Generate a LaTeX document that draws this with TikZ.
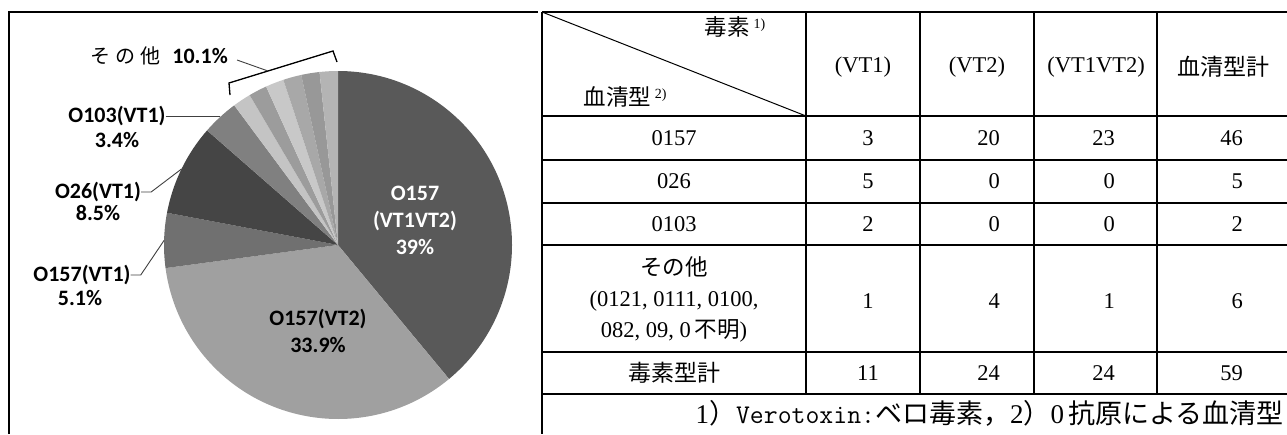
\documentclass[tikz,border=0pt]{standalone}
\usepackage{fontspec}
\usepackage{xcolor}
\usetikzlibrary{calc}
\setmainfont{Liberation Serif}
\newfontfamily\jp{Noto Sans CJK JP}
\newfontfamily\lab{Carlito}
\definecolor{pieA}{HTML}{595959}
\definecolor{pieB}{HTML}{A0A0A0}
\definecolor{pieC}{HTML}{707070}
\definecolor{pieD}{HTML}{454545}
\definecolor{pieE}{HTML}{808080}
\definecolor{pieF}{HTML}{C4C4C4}
\definecolor{pieG}{HTML}{9C9C9C}
\definecolor{pieH}{HTML}{C8C8C8}
\definecolor{pieI}{HTML}{A8A8A8}
\definecolor{pieJ}{HTML}{989898}
\definecolor{pieK}{HTML}{B4B4B4}

\begin{document}
\begin{tikzpicture}[x=1pt, y=-1pt,
    lbl/.style={font=\lab\bfseries\fontsize{22}{27}\selectfont, inner sep=0pt},
    cell/.style={font=\fontsize{22.5}{31}\selectfont, inner sep=0pt, align=center},
    jpcell/.style={cell, font=\jp\fontsize{23}{28}\selectfont},
    lead/.style={draw=black!75, line width=0.9pt},
    tabline/.style={line width=2pt}]
    \useasboundingbox (0,0) rectangle (1287,434);

    % pie, in units of 1/59 (6.1017 deg)
    \coordinate (c) at (338,245);
    \foreach \a/\b/\col in {0/23/pieA, 23/43/pieB, 43/46/pieC, 46/51/pieD, 51/53/pieE,
        53/54/pieF, 54/55/pieG, 55/56/pieH, 56/57/pieI, 57/58/pieJ, 58/59/pieK}
      \fill[\col] (c) -- ++({-90+\a*6.10169}:174) arc[start angle={-90+\a*6.10169}, end angle={-90+\b*6.10169}, radius=174] -- cycle;

    \coordinate (pone) at ($(c)+(181.5:174)$);
    \coordinate (ptwosix) at ($(c)+(205.9:174)$);
    \coordinate (ponethree) at ($(c)+(227.3:174)$);

    \node[lbl, text=white, align=center] (both) at (415,220) {O157\\(VT1VT2)\\39\%};
    \node[lbl, align=center] (vttwo) at (318,331) {O157(VT2)\\33.9\%};
    \node[lbl] (vtone) at (82,275) {O157(VT1)};
    \node[lbl] (vtonep) at (80,298) {5.1\%};
    \node[lbl] (otwosix) at (98,192) {O26(VT1)};
    \node[lbl] (otwosixp) at (98,213) {8.5\%};
    \node[lbl] (oonethree) at (117,116) {O103(VT1)};
    \node[lbl] (oonethreep) at (117,140) {3.4\%};
    \node[lbl, anchor=east] (others) at (228,56) {{\jp\mdseries\fontsize{20}{20}\selectfont そ\hspace{5pt}の\hspace{5pt}他}\hspace{12pt}10.1\%};

    \draw[lead] (vtone.east) -- ++(10,0) -- (pone);
    \draw[lead] (otwosix.east) -- ++(10,0) -- (ptwosix);
    \draw[lead] (oonethree.east) -- (oonethree.east -| ponethree);

    \coordinate (bl) at (230,95);
    \coordinate (blt) at (229,83);
    \coordinate (brt) at (333,51);
    \coordinate (br) at (337,62);
    \coordinate (bm) at ($(blt)!0.375!(brt)$);
    \draw[line width=1.3pt] (bl) -- (blt) -- (brt) -- (br);
    \draw[lead] ($(others.east)+(9,4)$) -- (bm);

    % table
    \draw[tabline] (9,434) -- (9,12) -- (538,12);
    \foreach \y in {12,116,160,203,245,352,394}
      \draw[tabline] (542,\y) -- (1287,\y);
    \foreach \x in {806,920,1034,1157}
      \draw[tabline] (\x,12) -- (\x,394);
    \draw[tabline] (542,12) -- (542,434);
    \draw[line width=1pt] (542,12) -- (806,116);

    \node[cell] (toxin) at (735,27) {{\jp 毒素}\,\raisebox{7pt}{\fontsize{14}{14}\selectfont 1)}};
    \node[cell] (sero) at (625,97) {{\jp 血清型}\,\raisebox{7pt}{\fontsize{14}{14}\selectfont 2)}};
    \node[cell] (hvtone) at (863,67) {(VT1)};
    \node[cell] (hvttwo) at (977,67) {(VT2)};
    \node[cell] (hboth) at (1096,67) {(VT1VT2)};
    \node[jpcell] (hsum) at (1223,67) {血清型計};

    \node[cell] (rone) at (674,138) {0157};
    \node[cell] (rtwo) at (674,181) {026};
    \node[cell] (rthree) at (674,224) {0103};
    \node[cell] (rfour) at (674,299) {{\jp その他}\\(0121,\ 0111,\ 0100,\\082,\ 09,\ 0\,{\jp 不明})};
    \node[jpcell] (rsum) at (674,373) {毒素型計};

    \foreach \y/\a/\b/\c/\d [count=\i] in {138/3/20/23/46, 181/5/0/0/5, 224/2/0/0/2, 301/1/4/1/6, 373/11/24/24/59} {
      \node[cell] (v\i-a) at (868,\y) {\a};
      \node[cell, anchor=east] (v\i-b) at (1000,\y) {\b};
      \node[cell, anchor=east] (v\i-c) at (1115,\y) {\c};
      \node[cell, anchor=east] (v\i-d) at (1243,\y) {\d};
    }

    \node[inner sep=0pt, anchor=east, font=\jp\fontsize{27}{30}\selectfont] (note) at (1284,413)
      {{\rmfamily 1}）{\ttfamily Verotoxin:}ベロ毒素，{\rmfamily 2}）{\rmfamily 0}\,抗原による血清型};
\end{tikzpicture}
\end{document}
